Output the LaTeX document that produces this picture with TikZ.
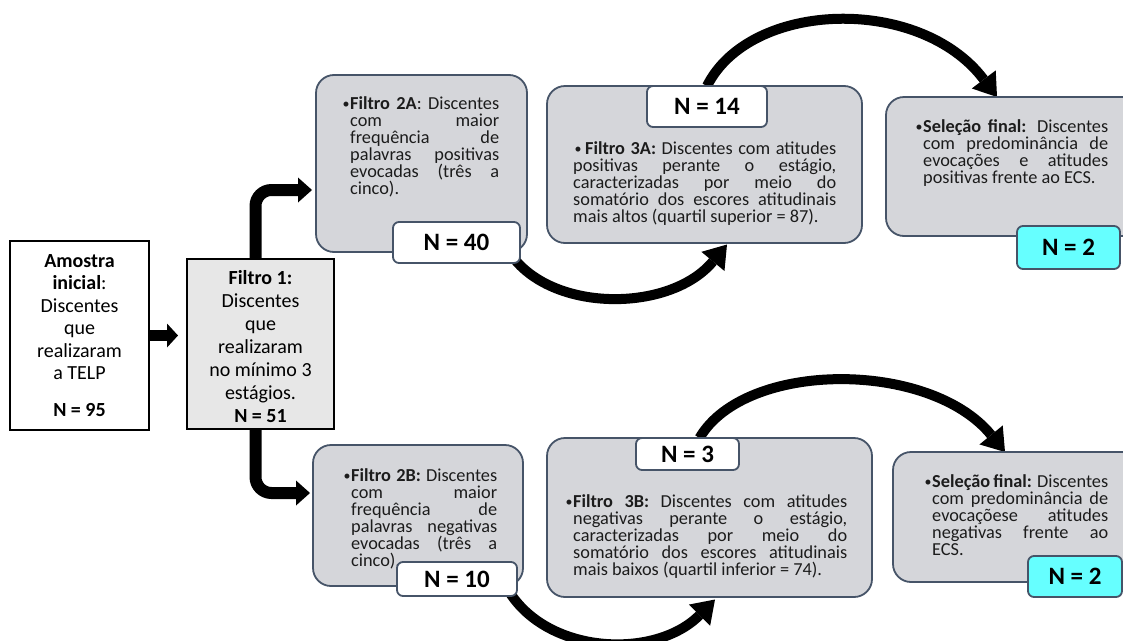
\documentclass[tikz,border=0pt]{standalone}
\usepackage{fontspec}
\setmainfont{Carlito}
\usetikzlibrary{arrows.meta,backgrounds}
\definecolor{boxgray}{RGB}{213,214,218}
\definecolor{boxedge}{RGB}{70,84,104}
\definecolor{fonegray}{RGB}{231,231,231}
\definecolor{ncyan}{RGB}{102,255,255}
\definecolor{txtgray}{RGB}{28,28,28}
\newcommand\jl[2]{\makebox[#1][s]{#2}}
\newcommand\bulbox[1]{\makebox[#1][l]{\hspace*{-0.5pt}{\fontsize{14}{14}\selectfont\raisebox{0.8pt}{•}}}}
\tikzset{
  plainbox/.style={draw=black,line width=1.8pt,outer sep=0pt,inner sep=0pt,align=center,
    font=\fontsize{20}{22.5}\selectfont},
  graybox/.style={draw=boxedge,fill=boxgray,line width=1.8pt,rounded corners=18pt,outer sep=0pt},
  nbox/.style={draw=boxedge,fill=white,line width=1.8pt,rounded corners=6pt,outer sep=0pt,
    inner sep=0pt,font=\fontsize{25}{27}\selectfont\bfseries},
  gtext/.style={inner sep=0pt,align=left,text=txtgray,font=\fontsize{18.3}{17}\selectfont},
  arcarrow/.style={line width=10pt,-{Triangle[length=22pt,width=30pt,line width=0pt]}},
  barrow/.style={line width=12pt,rounded corners=16pt,-{Triangle[length=14pt,width=25pt,line width=0pt]}},
  harrow/.style={line width=11pt,-{Triangle[length=11pt,width=24pt,line width=0pt]}}
}
\begin{document}
\begin{tikzpicture}[x=1pt,y=-1pt]
\useasboundingbox (0,0) rectangle (1123,640);

% left boxes
\node[plainbox,minimum width=139pt,minimum height=189pt] (am) at (79.5,335.5)
  {\textbf{Amostra}\\\textbf{inicial}:\\Discentes\\que\\realizaram\\a TELP\\[14pt]\textbf{N = 95}};
\node[plainbox,fill=fonegray,minimum width=147pt,minimum height=170pt,font=\fontsize{20}{23}\selectfont] (f1) at (260.5,344)
  {\rule{0pt}{19pt}\textbf{Filtro 1:}\\Discentes\\que\\realizaram\\no mínimo 3\\estágios.\\\textbf{N = 51}};

% upper branch
\node[graybox,minimum width=211pt,minimum height=177pt] (f2a) at (421.5,163.5) {};
\node[gtext,anchor=base west] (t2a) at (343,194.5)
  {\bulbox{7pt}\jl{149pt}{\textbf{Filtro 2A}: Discentes}\\
   \hspace*{7pt}\jl{149pt}{com maior}\\
   \hspace*{7pt}\jl{149pt}{frequência de}\\
   \hspace*{7pt}\jl{149pt}{palavras positivas}\\
   \hspace*{7pt}\jl{149pt}{evocadas (três a}\\
   \hspace*{7pt}cinco).};
\node[nbox,minimum width=127pt,minimum height=41pt] (n40) at (456.5,242.5) {N = 40};

\node[graybox,minimum width=315pt,minimum height=157pt] (f3a) at (704.5,164.5) {};
\node[nbox,minimum width=120pt,minimum height=41pt] (n14) at (707,106.5) {N = 14};
\node[gtext,anchor=base west] (t3a) at (573,222.5)
  {\hspace*{2pt}\bulbox{10pt}\jl{251pt}{\textbf{Filtro 3A:} Discentes com atitudes}\\
   \jl{263pt}{positivas perante o estágio,}\\
   \jl{263pt}{caracterizadas por meio do}\\
   \jl{263pt}{somatório dos escores atitudinais}\\
   mais altos (quartil superior = 87).};

\node[graybox,minimum width=254pt,minimum height=139pt] (sa) at (1013,166.5) {};
\node[gtext,anchor=base west] (tsa) at (916,183.5)
  {\bulbox{7pt}\jl{185pt}{\textbf{Seleção final:} Discentes}\\
   \hspace*{7pt}\jl{185pt}{com predominância de}\\
   \hspace*{7pt}\jl{185pt}{evocações e atitudes}\\
   \hspace*{7pt}positivas frente ao ECS.};
\node[nbox,fill=ncyan,minimum width=103pt,minimum height=43pt] (n2a) at (1068.5,247.5) {N = 2};

% lower branch
\node[graybox,minimum width=210pt,minimum height=141pt] (f2b) at (418,515.5) {};
\node[gtext,anchor=base west] (t2b) at (344,566.5)
  {\bulbox{7pt}\jl{146pt}{\textbf{Filtro 2B:} Discentes}\\
   \hspace*{7pt}\jl{146pt}{com maior}\\
   \hspace*{7pt}\jl{146pt}{frequência de}\\
   \hspace*{7pt}\jl{146pt}{palavras negativas}\\
   \hspace*{7pt}\jl{146pt}{evocadas (três a}\\
   \hspace*{7pt}cinco).};
\node[nbox,minimum width=120pt,minimum height=34pt] (n10) at (457,579) {N = 10};

\node[graybox,minimum width=325pt,minimum height=159pt] (f3b) at (709.5,517.5) {};
\node[nbox,minimum width=103pt,minimum height=32pt] (n3) at (687.5,454) {N = 3};
\node[gtext,anchor=base west] (t3b) at (566,575.5)
  {\bulbox{7pt}\jl{274pt}{\textbf{Filtro 3B:} Discentes com atitudes}\\
   \hspace*{7pt}\jl{274pt}{negativas perante o estágio,}\\
   \hspace*{7pt}\jl{274pt}{caracterizadas por meio do}\\
   \hspace*{7pt}\jl{274pt}{somatório dos escores atitudinais}\\
   \hspace*{7pt}mais baixos (quartil inferior = 74).};

\node[graybox,minimum width=247pt,minimum height=130pt] (sb) at (1016.5,517) {};
\node[gtext,anchor=base west] (tsb) at (925,555.5)
  {\bulbox{7pt}\jl{176pt}{\textbf{Seleção final:} Discentes}\\
   \hspace*{7pt}\jl{176pt}{com predominância de}\\
   \hspace*{7pt}\jl{176pt}{evocaçõese atitudes}\\
   \hspace*{7pt}\jl{176pt}{negativas frente ao}\\
   \hspace*{7pt}ECS.};
\node[nbox,fill=ncyan,minimum width=94pt,minimum height=41pt] (n2b) at (1075,576.5) {N = 2};

% straight connectors
\coordinate (h1) at ([xshift=-9pt]f1.west);
\draw[harrow] (am.east) -- (am.east -| h1);
\coordinate (u1) at ([xshift=-4pt,yshift=-26.5pt]f2a.west);
\coordinate (d1) at ([xshift=-3pt,yshift=22.5pt]f2b.west);
\draw[barrow] ([xshift=-5pt]f1.north) |- (u1);
\draw[barrow] ([xshift=-5pt]f1.south) |- (d1);

% curved connectors behind boxes
\begin{pgfonlayer}{background}
\fill[white] (0,0) rectangle (1123,640);
\draw[arcarrow] ([xshift=-10pt,yshift=10pt]n40.south east)
  .. controls (550,313) and (670,313) .. ([xshift=22.5pt,yshift=-1.5pt]f3a.south);
\draw[arcarrow] (n14.north)
  .. controls (750,0) and (920,-5) .. ([xshift=-16pt]sa.north);
\draw[arcarrow] ([xshift=-10pt,yshift=8pt]n10.south east)
  .. controls (545,655) and (655,660) .. ([xshift=5.5pt,yshift=-2.5pt]f3b.south);
\draw[arcarrow] ([xshift=12pt]n3.north)
  .. controls (745,360) and (930,360) .. ([xshift=-11.5pt]sb.north);
\end{pgfonlayer}
\end{tikzpicture}
\end{document}
